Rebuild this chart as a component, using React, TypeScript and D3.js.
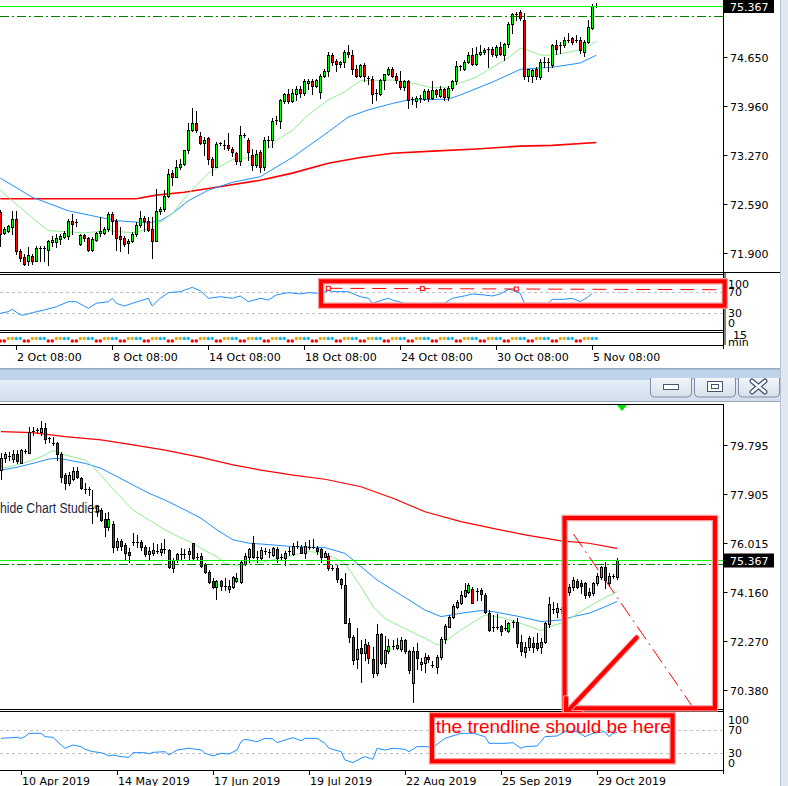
import React from 'react';
import * as d3 from 'd3';

type Candle = [number, number, number, number]; // open, high, low, close
type Pt = [number, number]; // [candle index, value]

// ---------- H4 window (top) ----------
const h4Candles: Candle[] = [
  [72.47,72.50,72.00,72.16],[72.18,72.26,72.16,72.23],[72.21,72.29,72.19,72.27],[72.26,72.48,72.16,72.38],
  [72.38,72.48,71.88,71.93],[71.93,71.95,71.78,71.83],[71.84,71.88,71.72,71.74],[71.79,71.98,71.72,71.87],
  [71.86,71.88,71.74,71.79],[71.79,71.99,71.79,71.97],[71.96,72.00,71.79,71.97],[71.95,71.99,71.79,71.96],
  [71.94,72.08,71.72,72.07],[72.05,72.14,71.99,72.08],[72.05,72.16,71.98,72.10],[72.09,72.16,72.02,72.13],
  [72.12,72.21,72.11,72.18],[72.14,72.38,72.09,72.35],[72.35,72.45,72.16,72.31],[72.33,72.38,72.28,72.32],
  [72.02,72.17,72.01,72.15],[72.15,72.16,72.07,72.10],[72.10,72.12,71.92,71.94],[71.94,72.12,71.92,72.09],
  [72.08,72.19,72.07,72.18],[72.18,72.40,72.14,72.20],[72.18,72.26,72.16,72.24],[72.24,72.47,72.21,72.45],
  [72.45,72.47,72.16,72.35],[72.35,72.38,71.94,72.11],[72.13,72.26,71.93,72.09],[72.11,72.13,72.00,72.02],
  [72.03,72.09,71.90,72.07],[72.07,72.19,72.05,72.16],[72.16,72.33,72.14,72.29],[72.29,72.48,72.26,72.39],
  [72.39,72.42,72.21,72.35],[72.35,72.40,72.21,72.22],[72.24,72.40,71.83,72.07],[72.07,72.80,72.07,72.49],
  [72.48,72.54,72.45,72.52],[72.52,72.78,72.49,72.70],[72.70,73.08,72.68,73.01],[73.02,73.06,72.85,72.97],
  [72.97,73.20,72.96,73.10],[73.10,73.22,73.08,73.15],[73.15,73.35,73.14,73.34],[73.34,73.72,73.30,73.62],
  [73.62,73.94,73.61,73.73],[73.73,73.90,73.60,73.62],[73.54,73.60,73.43,73.44],[73.44,73.53,73.27,73.49],
  [73.51,73.53,73.15,73.22],[73.22,73.25,72.99,73.11],[73.11,73.46,73.11,73.43],[73.44,73.46,73.42,73.45],
  [73.41,73.48,73.36,73.42],[73.41,73.59,73.35,73.37],[73.36,73.39,73.26,73.32],[73.31,73.32,73.15,73.19],
  [73.19,73.68,73.14,73.55],[73.55,73.59,73.53,73.56],[73.49,73.52,73.20,73.32],[73.27,73.36,73.06,73.14],
  [73.14,73.34,73.10,73.29],[73.32,73.34,73.04,73.11],[73.11,73.53,73.06,73.48],[73.48,73.54,73.39,73.49],
  [73.49,73.80,73.39,73.76],[73.76,73.82,73.71,73.77],[73.76,74.07,73.65,74.05],[74.04,74.15,74.00,74.14],
  [74.14,74.20,74.00,74.04],[74.04,74.21,74.02,74.15],[74.14,74.24,74.05,74.21],[74.21,74.24,74.09,74.15],
  [74.15,74.34,74.12,74.31],[74.29,74.34,74.21,74.31],[74.31,74.34,74.14,74.24],[74.24,74.34,74.23,74.33],
  [74.16,74.41,74.08,74.39],[74.39,74.48,74.37,74.46],[74.46,74.73,74.38,74.68],[74.68,74.71,74.54,74.59],
  [74.60,74.62,74.46,74.55],[74.55,74.60,74.52,74.59],[74.58,74.75,74.52,74.73],[74.73,74.82,74.66,74.69],
  [74.68,74.75,74.42,74.48],[74.48,74.54,74.37,74.38],[74.38,74.56,74.37,74.54],[74.54,74.57,74.31,74.38],
  [74.35,74.39,74.28,74.36],[74.34,74.38,74.01,74.14],[74.14,74.21,74.05,74.15],[74.14,74.35,74.12,74.33],
  [74.33,74.42,74.21,74.41],[74.41,74.52,74.40,74.49],[74.49,74.52,74.37,74.39],[74.39,74.43,74.29,74.33],
  [74.32,74.46,74.20,74.23],[74.23,74.33,74.19,74.32],[74.32,74.33,73.93,74.05],[74.05,74.09,73.99,74.06],
  [74.04,74.10,73.95,74.08],[74.08,74.12,74.02,74.08],[74.07,74.20,74.05,74.17],[74.17,74.20,74.04,74.08],
  [74.08,74.32,74.07,74.19],[74.19,74.21,74.09,74.14],[74.10,74.24,74.09,74.21],[74.20,74.22,74.05,74.09],
  [74.09,74.24,74.05,74.22],[74.22,74.33,74.19,74.31],[74.31,74.60,74.28,74.53],[74.52,74.54,74.47,74.53],
  [74.49,74.61,74.47,74.59],[74.59,74.72,74.57,74.68],[74.68,74.78,74.54,74.56],[74.56,74.80,74.54,74.70],
  [74.70,74.83,74.68,74.73],[74.72,74.78,74.70,74.75],[74.76,74.80,74.52,74.76],[74.76,74.80,74.67,74.69],
  [74.68,74.82,74.66,74.80],[74.80,74.86,74.68,74.70],[74.68,74.85,74.61,74.84],[74.84,75.14,74.80,75.12],
  [75.12,75.27,74.99,75.26],[75.26,75.29,75.18,75.26],[75.29,75.32,75.18,75.20],[75.18,75.28,74.35,74.38],
  [74.38,74.49,74.32,74.48],[74.38,74.49,74.30,74.47],[74.49,74.51,74.35,74.38],[74.37,74.62,74.35,74.59],
  [74.59,74.65,74.52,74.59],[74.57,74.64,74.46,74.58],[74.54,74.84,74.52,74.82],[74.82,74.90,74.70,74.76],
  [74.82,74.87,74.71,74.83],[74.82,74.94,74.80,74.90],[74.90,74.99,74.87,74.90],[74.92,74.94,74.84,74.87],
  [74.89,74.96,74.87,74.89],[74.89,74.93,74.71,74.75],[74.73,74.90,74.67,74.87],[74.87,75.17,74.85,75.07],
  [75.06,75.40,75.05,75.37],[75.37,75.41,75.36,75.367],
];
const h4Ma20: Pt[] = [[0,72.78],[3,72.63],[8,72.39],[12,72.21],[21,72.18],[27,72.21],[33,72.18],[38,72.25],[43,72.45],[47,72.73],[52,73.02],[58,73.21],[65,73.26],[69,73.48],[73,73.62],[77,73.84],[82,74.05],[86,74.16],[90,74.32],[98,74.33],[102,74.30],[108,74.22],[112,74.23],[115,74.29],[119,74.37],[123,74.51],[127,74.64],[130,74.78],[132,74.75],[135,74.68],[138,74.68],[142,74.72],[146,74.77],[149,74.88]];
const h4Ma50: Pt[] = [[0,72.95],[8,72.68],[17,72.49],[23,72.42],[29,72.35],[37,72.32],[40,72.35],[43,72.45],[47,72.63],[52,72.78],[58,72.89],[65,72.97],[73,73.24],[82,73.60],[87,73.81],[92,73.91],[98,74.00],[102,74.05],[112,74.06],[115,74.12],[123,74.30],[130,74.48],[135,74.50],[138,74.51],[145,74.57],[149,74.68]];
const h4Ma200: Pt[] = [[0,72.66],[34,72.66],[39,72.71],[46,72.75],[54,72.82],[65,72.92],[73,73.02],[82,73.16],[90,73.24],[98,73.30],[108,73.33],[119,73.36],[130,73.40],[138,73.41],[149,73.45]];
const h4Rsi: Pt[] = [[0,30],[2,33.1],[3,37.6],[5,26.8],[6,26.8],[8,31.2],[11,36.3],[14,42.6],[17,52.1],[19,52.1],[22,39.5],[24,49],[27,52.1],[28,58.6],[29,49],[31,43.9],[33,49],[37,58.6],[38,43.9],[40,58.6],[42,69.3],[45,71.2],[48,79.5],[50,73],[52,58.6],[55,61.6],[58,58.6],[60,63],[62,52.1],[65,58.6],[67,55.3],[69,64.9],[72,69.3],[75,66.8],[77,69.3],[80,68.1],[82,73],[84,71.2],[87,71.2],[90,61.6],[92,58.6],[93,49],[95,54],[97,58.6],[98,55.3],[101,49],[103,49],[106,47.7],[108,49],[111,49],[113,58.6],[116,63],[118,66.8],[121,64.9],[123,63],[125,66.8],[127,75.7],[128,74.4],[130,68.1],[131,49],[134,49],[137,49],[138,56.6],[141,56.6],[143,58.6],[145,52.1],[147,61.6],[148,68.1]];
const h4RsiTrend: Pt[] = [[82, 77.6], [129, 76.3]];
const h4Sessions = 'rroobb'.repeat(25).split('');
const h4PriceTicks = [74.65, 73.96, 73.27, 72.59, 71.9];
const h4TimeLabels: [number, string][] = [[4,'2 Oct 08:00'],[28,'8 Oct 08:00'],[52,'14 Oct 08:00'],[76,'18 Oct 08:00'],[100,'24 Oct 08:00'],[124,'30 Oct 08:00'],[148,'5 Nov 08:00']];

// ---------- D1 window (bottom) ----------
const d1Candles: Candle[] = [
  [78.83,79.47,78.48,79.28],[79.28,79.54,79.16,79.45],[79.38,79.54,79.22,79.37],[79.24,79.60,79.16,79.45],
  [79.45,79.60,79.09,79.18],[79.12,79.63,79.09,79.60],[79.58,79.63,79.50,79.57],[79.50,80.50,79.47,80.31],
  [80.34,80.50,80.18,80.35],[80.36,80.44,80.24,80.37],[80.31,80.73,80.18,80.44],[80.44,80.63,79.86,80.01],
  [80.04,80.12,79.92,80.05],[79.89,80.12,79.80,79.88],[79.89,79.92,79.22,79.45],[79.45,79.54,78.39,78.58],
  [78.64,78.71,78.09,78.32],[78.32,78.77,78.26,78.64],[78.48,78.94,78.45,78.81],[78.81,78.94,78.51,78.58],
  [78.51,78.58,78.09,78.13],[78.10,78.32,77.96,78.09],[78.09,78.19,77.87,78.08],[77.37,78.07,76.79,77.36],
  [77.26,77.50,77.07,77.45],[77.30,77.36,76.89,76.91],[76.94,77.17,76.30,76.66],[76.66,77.23,76.53,76.94],
  [76.76,76.89,75.70,75.89],[75.89,76.21,75.76,76.11],[76.11,76.17,75.76,75.93],[75.95,76.02,75.38,75.63],
  [75.70,75.82,75.31,75.57],[76.04,76.40,75.95,76.05],[76.05,76.34,75.89,76.04],[76.06,76.15,75.76,75.89],
  [75.89,75.95,75.53,75.59],[75.61,75.89,75.38,75.73],[75.66,76.02,75.57,75.76],[75.74,75.99,75.63,75.73],
  [75.70,76.02,75.57,75.79],[75.79,76.17,75.63,75.78],[75.76,75.79,75.06,75.12],[75.06,75.44,74.93,75.38],
  [75.38,75.66,75.31,75.61],[75.60,75.82,75.38,75.61],[75.61,75.79,75.44,75.60],[75.61,75.82,75.38,75.73],
  [76.02,76.04,75.38,75.44],[75.51,75.63,75.38,75.50],[75.53,75.63,75.12,75.15],[75.18,75.27,74.89,74.93],
  [74.93,74.99,74.50,74.54],[74.58,74.67,74.29,74.35],[74.35,74.61,73.88,74.57],[74.57,74.61,74.22,74.38],
  [74.36,74.67,74.22,74.35],[74.25,74.61,74.16,74.38],[74.35,74.76,74.29,74.71],[74.57,74.86,74.54,74.68],
  [74.54,75.38,74.48,75.31],[75.22,75.63,75.18,75.53],[75.50,75.82,75.31,75.79],[76.04,76.30,75.44,75.50],
  [75.50,75.73,75.31,75.51],[75.44,75.89,75.38,75.76],[75.73,75.82,75.61,75.74],[75.70,75.79,75.50,75.69],
  [75.57,75.89,75.53,75.82],[75.79,75.89,75.31,75.44],[75.47,75.61,75.38,75.48],[75.44,75.73,75.18,75.66],
  [75.73,75.89,75.57,75.74],[75.61,76.02,75.57,75.91],[75.89,76.12,75.82,75.90],[75.89,75.95,75.63,75.66],
  [75.66,76.08,75.44,75.91],[75.89,76.15,75.79,75.88],[75.88,76.17,75.82,75.89],[75.82,75.91,75.61,75.73],
  [75.79,75.82,75.31,75.50],[75.50,75.73,75.48,75.63],[75.53,75.63,74.99,75.06],[75.06,75.18,74.99,75.05],
  [75.06,75.18,74.54,74.63],[74.63,74.67,74.29,74.45],[74.41,74.86,72.94,72.97],[72.97,73.13,72.24,72.43],
  [72.40,72.49,71.38,71.53],[71.56,72.75,71.21,71.94],[71.98,72.30,70.70,71.81],[71.79,72.33,71.53,72.15],
  [72.11,72.24,71.43,71.60],[71.56,72.05,70.89,71.02],[71.02,72.92,70.96,72.53],[72.53,72.58,71.38,71.43],
  [71.43,72.45,71.28,71.92],[71.89,72.33,71.79,72.08],[72.08,72.30,71.94,72.09],[71.98,72.37,71.94,72.11],
  [71.94,72.40,71.89,72.30],[72.30,72.35,71.81,71.89],[71.89,71.92,71.02,71.15],[70.66,72.05,69.93,71.89],
  [71.89,72.17,71.17,71.60],[71.38,71.60,71.15,71.47],[71.43,71.81,71.08,71.66],[71.66,71.73,71.47,71.56],
  [71.34,71.51,71.25,71.35],[71.28,71.73,71.05,71.66],[71.63,72.43,71.56,72.33],[72.33,72.92,72.17,72.84],
  [72.81,73.26,72.79,73.20],[73.20,73.68,73.13,73.61],[73.58,73.84,73.52,73.78],[73.74,74.20,73.69,74.03],
  [73.99,74.50,73.94,74.22],[74.16,74.50,74.10,74.42],[74.25,74.33,73.71,73.74],[74.19,74.29,73.84,74.20],
  [74.22,74.29,73.84,74.07],[74.03,74.10,73.33,73.39],[73.33,73.45,72.66,72.69],[72.82,73.26,72.66,72.81],
  [72.81,73.30,72.71,72.82],[72.84,72.88,72.49,72.66],[72.75,73.07,72.69,72.74],[72.66,73.01,72.62,72.94],
  [73.00,73.07,72.81,73.01],[73.01,73.13,72.05,72.17],[72.24,72.49,71.73,71.89],[71.85,72.24,71.66,72.05],
  [72.05,72.45,71.92,72.37],[72.17,72.43,71.85,72.05],[72.17,72.56,71.92,71.98],[72.02,72.37,71.81,72.24],
  [72.24,73.01,72.17,72.94],[72.92,73.94,72.81,73.68],[73.50,73.77,73.33,73.51],[73.39,73.71,73.20,73.52],
  [73.51,73.58,73.33,73.50],[73.45,74.20,73.39,74.10],[74.16,74.45,74.03,74.35],[74.33,74.73,74.22,74.61],
  [74.57,74.66,74.29,74.35],[74.50,74.61,74.10,74.38],[74.48,74.54,73.90,74.03],[74.16,74.29,73.97,74.03],
  [74.10,74.54,74.03,74.48],[74.48,74.86,74.42,74.76],[74.71,75.15,74.66,75.09],[75.12,75.31,74.29,74.61],
  [74.48,74.86,74.38,74.76],[74.76,74.84,74.67,74.77],[74.71,75.44,74.63,75.367],
];
const d1Ma20: Pt[] = [[0,78.90],[4,79.03],[8,79.22],[11,79.41],[13,79.58],[14,79.54],[16,79.41],[21,79.22],[23,78.96],[26,78.45],[29,77.94],[33,77.30],[37,76.91],[41,76.53],[46,76.15],[48,76.02],[50,75.82],[54,75.50],[56,75.25],[60,75.12],[63,75.31],[65,75.27],[73,75.57],[77,75.70],[81,75.63],[86,75.25],[90,74.35],[93,73.58],[96,73.13],[100,72.81],[106,72.37],[109,72.11],[111,72.24],[115,72.69],[119,73.07],[121,73.26],[125,73.17],[130,72.94],[135,72.66],[137,72.81],[140,72.95],[143,73.20],[146,73.50],[150,73.85],[154,74.16]];
const d1Ma50: Pt[] = [[0,78.83],[4,78.94],[8,79.09],[12,79.26],[14,79.28],[16,79.24],[21,79.09],[25,78.90],[29,78.58],[33,78.26],[37,77.94],[41,77.68],[46,77.30],[50,76.98],[54,76.53],[58,76.15],[62,76.02],[65,75.99],[73,75.89],[81,75.85],[86,75.63],[90,75.12],[94,74.61],[98,74.22],[102,73.84],[106,73.45],[110,73.20],[115,73.33],[120,73.43],[123,73.39],[129,73.22],[135,73.01],[140,73.07],[143,73.20],[147,73.33],[151,73.58],[154,73.78]];
const d1Ma200: Pt[] = [[0,80.31],[8,80.27],[16,80.12],[25,79.99],[33,79.80],[41,79.60],[50,79.32],[58,79.03],[65,78.83],[73,78.64],[81,78.48],[90,78.19],[98,77.75],[106,77.23],[115,76.85],[123,76.59],[131,76.34],[140,76.11],[147,76.02],[154,75.82]];
const d1Rsi: Pt[] = [[0,55.7],[4,57.4],[5,55.7],[6,58.6],[7,64.3],[10,64.3],[11,58.6],[13,57.4],[15,44.3],[16,38.6],[18,44.3],[20,41.4],[21,36.8],[23,32.8],[25,31.1],[26,28.8],[27,25.4],[28,27.1],[30,24.3],[32,23.1],[33,31.1],[36,31.1],[37,28.8],[38,31.7],[41,32.8],[42,27.1],[44,35.7],[47,38.6],[50,35.7],[51,30],[53,25.4],[55,30],[57,28.8],[59,35.7],[60,50],[61,54],[64,50],[66,55.7],[68,54.6],[69,48.3],[71,52.8],[73,56.8],[75,51.7],[76,55.7],[79,55.7],[81,47.1],[82,38.6],[85,32.8],[86,18.5],[88,14],[90,21.4],[91,24.3],[93,19.7],[94,38.6],[96,35.7],[98,38.6],[101,36.8],[102,32.8],[104,41.4],[106,41.4],[108,40.3],[111,55.7],[115,64.3],[118,64.3],[121,58.6],[122,47.1],[126,47.1],[128,48.3],[130,38.6],[131,41.4],[134,42.6],[136,58.6],[139,59.7],[141,67.1],[144,67.1],[146,58.6],[148,64.3],[151,67.1],[152,58.6],[153,64.3],[154,66]];
const d1Trend: Pt[] = [[143.1, 76.375], [173.1, 69.69]];
const d1PriceTicks = [79.795, 77.905, 76.015, 74.16, 72.27, 70.38];
const d1TimeLabels: [number, string][] = [[5,'10 Apr 2019'],[29,'14 May 2019'],[53,'17 Jun 2019'],[77,'19 Jul 2019'],[101,'22 Aug 2019'],[125,'25 Sep 2019'],[149,'29 Oct 2019']];

const bidPrice = 75.367;
const stopLevel = 75.235;
const rsiLevels = [70, 30];
const rsiLabels = [100, 70, 30, 0];

// annotation drawings (in the data space of each pane)
const h4Box = { i0: 80.2, i1: 181.1, v0: 91, v1: 44.5 };
const d1Box = { i0: 140.9, i1: 178.5, p0: 76.99, p1: 69.675 };
const d1Arrow: Pt[] = [[158.9, 72.39], [141.25, 69.5]];
const noteBox = { i0: 107.75, i1: 167.9, v0: 95.2, v1: 16.3, ti: 108.7, tv: 65.5 };
const noteText = 'the trendline should be here';

const AX = 723.5;
const GREEN = '#00ff00';
const RED = '#ff0000';
const BLUE = '#1e90ff';
const LGREEN = '#90ee90';

// scales
const h4x = d3.scaleLinear().domain([0, 148]).range([0.3, 592.3]);
const h4y = d3.scaleLinear().domain([71.9, 74.65]).range([252.7, 57.3]);
const h4ry = d3.scaleLinear().domain([0, 100]).range([329.05, 276.55]);
const d1x = d3.scaleLinear().domain([0, 149]).range([1, 597]);
const d1y = d3.scaleLinear().domain([70.38, 79.795]).range([690, 445]);
const d1ry = d3.scaleLinear().domain([0, 100]).range([770.8, 712.5]);

function candles(data: Candle[], x: any, y: any) {
  return data.map(([o, h, l, c], i) => {
    const cx = Math.floor(x(i)) + 0.5;
    const top = Math.round(Math.min(y(o), y(c)));
    const bot = Math.round(Math.max(y(o), y(c)));
    return (
      <g key={i}>
        <line x1={cx} x2={cx} y1={Math.round(y(h))} y2={Math.round(y(l)) + 1} stroke="#000" />
        {bot - top < 2 ? (
          <line x1={cx - 1.5} x2={cx + 1.5} y1={top + 0.5} y2={top + 0.5} stroke="#000" />
        ) : (
          <rect x={cx - 1} y={top + 0.5} width={2} height={bot - top} fill={c > o ? GREEN : RED} stroke="#000" />
        )}
      </g>
    );
  });
}

function path(data: Pt[], x: any, y: any) {
  return d3.line<Pt>().x(d => x(d[0])).y(d => y(d[1]))(data) || '';
}

function RedRect({ x0, y0, x1, y1 }: { x0: number; y0: number; x1: number; y1: number }) {
  return (
    <g fill="none">
      <rect x={x0} y={y0} width={x1 - x0} height={y1 - y0} stroke="#ff9a9a" strokeWidth={6.5} />
      <rect x={x0} y={y0} width={x1 - x0} height={y1 - y0} stroke={RED} strokeWidth={4} />
    </g>
  );
}

export default function App() {
  const h4Price = Math.round(h4y(bidPrice)) + 0.5;
  const h4Stop = Math.round(h4y(stopLevel)) + 0.5;
  const d1Price = Math.round(d1y(bidPrice)) + 0.5;
  const d1Stop = Math.round(d1y(stopLevel)) + 0.5;

  const trendA = d1Trend[0], trendB = d1Trend[1];
  const aStart = d1Arrow[0], aEnd = d1Arrow[1];
  const tipX = d1x(aEnd[0]), tipY = d1y(aEnd[1]);
  const arrowPath = `M${d1x(aStart[0])},${d1y(aStart[1])} L${tipX},${tipY} M${tipX},${tipY - 15} L${tipX},${tipY} L${tipX + 15},${tipY}`;

  const rsiLabelY = (v: number, s: any, top: number, bottom: number) =>
    Math.min(Math.max(s(v), top + 8.5), bottom - 7) + 4;

  const h4Mid = (h4RsiTrend[0][0] + h4RsiTrend[1][0]) / 2;
  const trendSlope = (h4RsiTrend[1][1] - h4RsiTrend[0][1]) / (h4RsiTrend[1][0] - h4RsiTrend[0][0]);
  const rayEnd = h4x.invert(723);

  return (
    <svg width={788} height={786} style={{ position: 'absolute', left: 0, top: 0 }} fontFamily="DejaVu Sans" fontSize={11}>
      <defs>
        <clipPath id="h4main"><rect x={0} y={0} width={723} height={272} /></clipPath>
        <clipPath id="h4rsi"><rect x={0} y={275} width={723} height={55} /></clipPath>
        <clipPath id="d1main"><rect x={0} y={405} width={723} height={304} /></clipPath>
        <clipPath id="d1rsi"><rect x={0} y={712} width={723} height={58} /></clipPath>
        <linearGradient id="cap" x1="0" y1="0" x2="0" y2="1">
          <stop offset="0" stopColor="#e6eef7" />
          <stop offset="1" stopColor="#cfdcec" />
        </linearGradient>
        <linearGradient id="btn" x1="0" y1="0" x2="0" y2="1">
          <stop offset="0" stopColor="#f3f6fa" />
          <stop offset="1" stopColor="#d5dfeb" />
        </linearGradient>
      </defs>
      <rect width={788} height={786} fill="#fff" />

      {/* ===== TOP (H4) WINDOW ===== */}
      <g clipPath="url(#h4main)">
        <path d={path(h4Ma200, h4x, h4y)} fill="none" stroke={RED} strokeWidth={1.6} />
        <path d={path(h4Ma50, h4x, h4y)} fill="none" stroke={BLUE} strokeWidth={1} />
        <path d={path(h4Ma20, h4x, h4y)} fill="none" stroke={LGREEN} strokeWidth={1} />
        {candles(h4Candles, h4x, h4y)}
        <line x1={0} x2={723} y1={h4Price} y2={h4Price} stroke={GREEN} />
        <line x1={0} x2={723} y1={h4Stop} y2={h4Stop} stroke="#008000" strokeDasharray="9 3 2 3" />
      </g>
      {/* separators */}
      <g stroke="#000">
        <line x1={0} x2={780} y1={272.5} y2={272.5} />
        <line x1={0} x2={AX} y1={274.5} y2={274.5} />
        <line x1={0} x2={AX} y1={330.5} y2={330.5} />
        <line x1={0} x2={AX} y1={332.5} y2={332.5} />
        <line x1={0} x2={AX} y1={345.5} y2={345.5} />
        <line x1={AX} x2={AX} y1={0} y2={349} />
        <line x1={AX + 1.5} x2={AX + 1.5} y1={273} y2={345} />
      </g>
      {/* RSI H4 */}
      <g clipPath="url(#h4rsi)">
        {rsiLevels.map(v => (
          <line key={v} x1={0} x2={723} y1={Math.round(h4ry(v)) + 0.5} y2={Math.round(h4ry(v)) + 0.5} stroke="#c0c0c0" strokeDasharray="3 3" />
        ))}
        <path d={path(h4Rsi, h4x, h4ry)} fill="none" stroke={BLUE} />
        <line x1={h4x(h4RsiTrend[0][0])} y1={h4ry(h4RsiTrend[0][1])} x2={h4x(rayEnd)} y2={h4ry(h4RsiTrend[0][1] + trendSlope * (rayEnd - h4RsiTrend[0][0]))}
          stroke={RED} strokeDasharray="14 8" />
        {[h4RsiTrend[0][0], h4Mid, h4RsiTrend[1][0]].map((i, k) => (
          <rect key={k} x={h4x(i) - 2} y={h4ry(h4RsiTrend[0][1] + trendSlope * (i - h4RsiTrend[0][0])) - 2} width={4} height={4} fill="#fff" stroke={RED} />
        ))}
      </g>
      <RedRect x0={h4x(h4Box.i0)} y0={h4ry(h4Box.v0)} x1={h4x(h4Box.i1)} y1={h4ry(h4Box.v1)} />
      {rsiLabels.map(v => (
        <text key={v} x={728} y={rsiLabelY(v, h4ry, 275, 330)}>{v}</text>
      ))}
      {/* session dots */}
      {h4Sessions.map((s, i) => (
        <circle key={i} cx={h4x(i)} cy={s === 'r' ? 341 : 338.5} r={1.7}
          fill={s === 'r' ? RED : s === 'o' ? '#ffa500' : '#00bfff'} />
      ))}
      <text x={733} y={339}>15</text>
      <text x={728} y={345.5}>min</text>
      {/* price axis */}
      {h4PriceTicks.map(p => {
        const y = Math.round(h4y(p)) + 0.5;
        return (
          <g key={p}>
            <line x1={AX} x2={AX + 4} y1={y} y2={y} stroke="#000" />
            <text x={730} y={y + 4}>{p.toFixed(3)}</text>
          </g>
        );
      })}
      <rect x={724} y={h4Price - 6.5} width={50} height={13} fill="#000" />
      <text x={730} y={h4Price + 4} fill="#fff">{bidPrice.toFixed(3)}</text>
      {/* time axis */}
      {h4TimeLabels.map(([i, s]) => {
        const x = Math.floor(h4x(i)) + 0.5;
        return (
          <g key={s}>
            <line x1={x} x2={x} y1={345} y2={350} stroke="#000" />
            <text x={x + 0.5} y={360.5}>{s}</text>
          </g>
        );
      })}

      {/* gap between windows */}
      <line x1={0} x2={788} y1={368.5} y2={368.5} stroke="#a0a8b4" />
      <rect x={0} y={369} width={788} height={11} fill="#bfd4ea" />
      <line x1={0} x2={788} y1={369.5} y2={369.5} stroke="#8fc3de" />

      {/* ===== BOTTOM (D1) WINDOW ===== */}
      <rect x={0} y={380} width={780} height={22} fill="url(#cap)" />
      <line x1={0} x2={780} y1={401.5} y2={401.5} stroke="#9aa7b9" />
      {[650, 694, 738].map((bx, k) => (
        <path key={k} d={`M${bx + 0.5},378 V393 q0,4 4,4 H${bx + 37.5} q4,0 4,-4 V378`} fill="url(#btn)" stroke="#7f8da3" />
      ))}
      <rect x={663.5} y={384.5} width={15} height={5} fill="#fff" stroke="#45566e" />
      <rect x={707.5} y={381.5} width={15} height={10} fill="#fff" stroke="#45566e" />
      <rect x={711.5} y={384.5} width={7} height={4} fill="none" stroke="#45566e" />
      <g strokeLinecap="round">
        <path d="M752,381 L765,392 M765,381 L752,392" stroke="#45566e" strokeWidth={5} />
        <path d="M752,381 L765,392 M765,381 L752,392" stroke="#fff" strokeWidth={2.5} />
      </g>

      <g clipPath="url(#d1main)">
        <path d={path(d1Ma200, d1x, d1y)} fill="none" stroke={RED} strokeWidth={1.2} />
        <path d={path(d1Ma50, d1x, d1y)} fill="none" stroke={BLUE} strokeWidth={1} />
        <path d={path(d1Ma20, d1x, d1y)} fill="none" stroke={LGREEN} strokeWidth={1} />
        <text x={0} y={513} fontFamily="Liberation Sans" fontSize={14} fill="#1c2740" textLength={100} lengthAdjust="spacingAndGlyphs">hide Chart Studies</text>
        {candles(d1Candles, d1x, d1y)}
        <line x1={0} x2={723} y1={d1Price} y2={d1Price} stroke={GREEN} />
        <line x1={0} x2={723} y1={d1Stop} y2={d1Stop} stroke="#008000" strokeDasharray="9 3 2 3" />
        <line x1={d1x(trendA[0])} y1={d1y(trendA[1])} x2={d1x(trendB[0])} y2={d1y(trendB[1])} stroke={RED} strokeDasharray="16 5 2 5" />
      </g>
      <path d={`M${617},405 L${627},405 L${622},411 Z`} fill="#00e000" />
      <g stroke="#000">
        <line x1={0} x2={AX} y1={404.5} y2={404.5} />
        <line x1={0} x2={AX} y1={709.5} y2={709.5} />
        <line x1={0} x2={AX} y1={711.5} y2={711.5} />
        <line x1={0} x2={AX} y1={770.5} y2={770.5} />
        <line x1={AX} x2={AX} y1={404} y2={774} />
      </g>
      {/* RSI D1 */}
      <g clipPath="url(#d1rsi)">
        {rsiLevels.map(v => (
          <line key={v} x1={0} x2={723} y1={Math.round(d1ry(v)) + 0.5} y2={Math.round(d1ry(v)) + 0.5} stroke="#c0c0c0" strokeDasharray="3 3" />
        ))}
        <path d={path(d1Rsi, d1x, d1ry)} fill="none" stroke={BLUE} />
      </g>
      {rsiLabels.map(v => (
        <text key={v} x={728} y={rsiLabelY(v, d1ry, 711, 770)}>{v}</text>
      ))}
      {/* price axis */}
      {d1PriceTicks.map(p => {
        const y = Math.round(d1y(p)) + 0.5;
        return (
          <g key={p}>
            <line x1={AX} x2={AX + 4} y1={y} y2={y} stroke="#000" />
            <text x={730} y={y + 4}>{p.toFixed(3)}</text>
          </g>
        );
      })}
      <rect x={724} y={d1Price - 7} width={50} height={14} fill="#000" />
      <text x={730} y={d1Price + 4} fill="#fff">{bidPrice.toFixed(3)}</text>
      {/* time axis */}
      {d1TimeLabels.map(([i, s]) => {
        const x = Math.floor(d1x(i)) + 0.5;
        return (
          <g key={s}>
            <line x1={x} x2={x} y1={770} y2={775} stroke="#000" />
            <text x={x + 0.5} y={784.5}>{s}</text>
          </g>
        );
      })}

      {/* annotations */}
      <RedRect x0={d1x(d1Box.i0)} y0={d1y(d1Box.p0)} x1={d1x(d1Box.i1)} y1={d1y(d1Box.p1)} />
      <path d={arrowPath} fill="none" stroke="#ff9a9a" strokeWidth={6} strokeLinecap="round" strokeLinejoin="round" />
      <path d={arrowPath} fill="none" stroke={RED} strokeWidth={4} strokeLinecap="round" strokeLinejoin="round" />
      <RedRect x0={d1x(noteBox.i0)} y0={d1ry(noteBox.v0)} x1={d1x(noteBox.i1)} y1={d1ry(noteBox.v1)} />
      <text x={d1x(noteBox.ti)} y={d1ry(noteBox.tv)} fontFamily="Liberation Sans" fontSize={19} fill={RED} textLength={235} lengthAdjust="spacingAndGlyphs">{noteText}</text>

      {/* right window frame */}
      <rect x={780} y={0} width={8} height={786} fill="#dfe7f1" />
      <line x1={780.5} x2={780.5} y1={0} y2={786} stroke="#b4c2d4" />
    </svg>
  );
}
